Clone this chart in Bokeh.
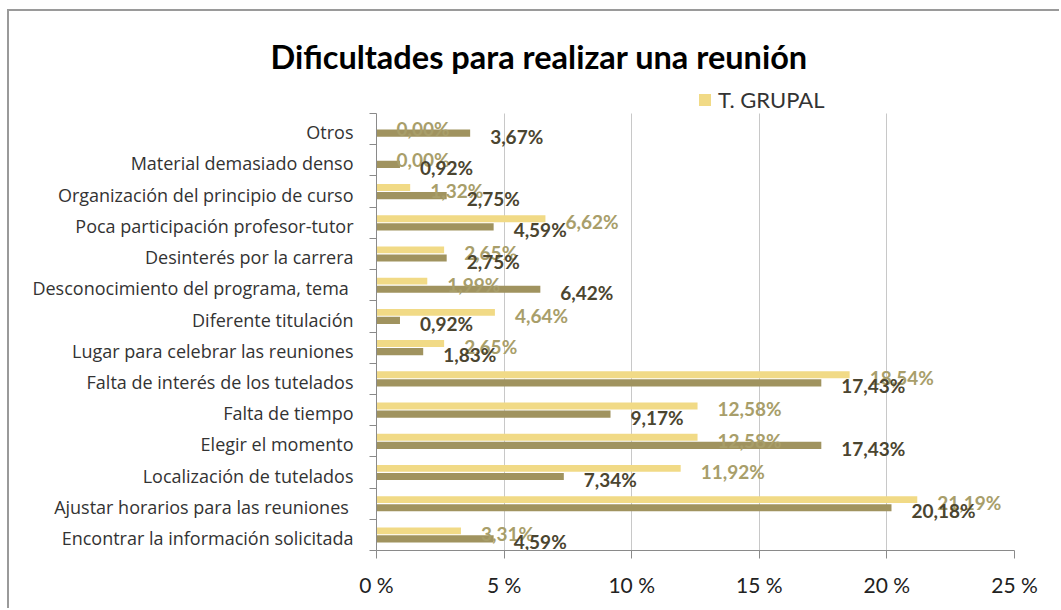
from bokeh.plotting import figure
from bokeh.models import (ColumnDataSource, FixedTicker, Legend, LegendItem, Range1d, Title)
from bokeh.embed import file_html
from bokeh.resources import INLINE
from bokeh.core.properties import value

# ---------------- data ----------------
categories = [
    "Otros",
    "Material demasiado denso",
    "Organización del principio de curso",
    "Poca participación profesor-tutor",
    "Desinterés por la carrera",
    "Desconocimiento del programa, tema ",
    "Diferente titulación",
    "Lugar para celebrar las reuniones",
    "Falta de interés de los tutelados",
    "Falta de tiempo",
    "Elegir el momento",
    "Localización de tutelados",
    "Ajustar  horarios para las reuniones",
    "Encontrar la información solicitada",
]
t_grupal = [0.00, 0.00, 1.32, 6.62, 2.65, 1.99, 4.64, 2.65, 18.54, 12.58, 12.58, 11.92, 21.19, 3.31]
t_other = [3.67, 0.92, 2.75, 4.59, 2.75, 6.42, 0.92, 1.83, 17.43, 9.17, 17.43, 7.34, 20.18, 4.59]
x_ticks = [0, 5, 10, 15, 20, 25]
x_tick_labels = ["0 %", "5 %", "10 %", "15 %", "20 %", "25 %"]
title_text = "Dificultades para realizar una reunión"
legend_label = "T. GRUPAL"

# ---------------- layout ----------------
n = len(categories)
OX, OY = 9, 11                       # canvas origin on the page (after css border)
W, H = 1061 - OX, 610 - OY
AX_TOP = 113                         # page y of top of category area
FT_PAGE = 82                         # page y of frame top (room for legend)
FL, FR, FT, FB = 376 - OX, 1014 - OX, FT_PAGE - OY, 550 - OY
px_y = (550 - AX_TOP) / n
y_end = n + (AX_TOP - FT_PAGE) / px_y

YELLOW = "#F1DA86"
DARK = "#A0935F"
YLAB = "#A89E6A"
DLAB = "#4B4530"
FONT = "Lato"

centers = [n - i - 0.5 for i in range(n)]
label_pos = [c - 0.1 for c in centers]
fmt = lambda v: f"{v:.2f}".replace(".", ",") + "%"

src = ColumnDataSource(dict(
    y1=[c + 0.13 for c in centers],
    y2=[c - 0.13 for c in centers],
    g=t_grupal, o=t_other,
    gl=[fmt(v) for v in t_grupal], ol=[fmt(v) for v in t_other],
))

p = figure(width=W, height=H, output_backend="svg", toolbar_location=None,
           x_range=Range1d(0, 25), y_range=Range1d(0, y_end),
           min_border_left=FL, min_border_right=W - FR,
           min_border_top=FT, min_border_bottom=H - FB)
p.styles = {"margin-left": "7px", "margin-top": "9px",
            "border-top": "2px solid #9a9a9a", "border-left": "2px solid #9a9a9a"}
p.outline_line_color = None
p.background_fill_color = "white"
p.border_fill_color = "white"

# grid lines (limited to the category area)
p.ygrid.grid_line_color = None
try:
    p.xgrid[0].cross_bounds = (0, n)
    p.xgrid.ticker = FixedTicker(ticks=x_ticks)
    p.xgrid.grid_line_color = "#c8c8c8"
except AttributeError:
    p.xgrid.grid_line_color = None
    p.segment(x0=x_ticks[1:], x1=x_ticks[1:], y0=0, y1=n, line_color="#c8c8c8", line_width=1)

r1 = p.hbar(y="y1", right="g", left=0, height=0.22, source=src, color=YELLOW, line_color=None)
r2 = p.hbar(y="y2", right="o", left=0, height=0.23, source=src, color=DARK, line_color=None)

p.text(x="g", y="y1", text="gl", source=src, x_offset=20, y_offset=3,
       text_font=value(FONT), text_font_style="bold", text_font_size="19px",
       text_color=YLAB, text_baseline="middle", text_align="left")
p.text(x="o", y="y2", text="ol", source=src, x_offset=20, y_offset=3,
       text_font=value(FONT), text_font_style="bold", text_font_size="19px",
       text_color=DLAB, text_baseline="middle", text_align="left")

# x axis
xa = p.xaxis[0]
xa.ticker = FixedTicker(ticks=x_ticks)
xa.major_label_overrides = {t: l for t, l in zip(x_ticks, x_tick_labels)}
xa.axis_line_color = "#8a8a8a"
xa.major_tick_line_color = "#8a8a8a"
xa.major_tick_out = 8
xa.major_tick_in = 0
xa.minor_tick_line_color = None
xa.major_label_standoff = 13
xa.major_label_text_font = FONT
xa.major_label_text_font_size = "21px"
xa.major_label_text_color = "#222222"

# y axis
ya = p.yaxis[0]
ya.bounds = (0, n)
ya.ticker = FixedTicker(ticks=label_pos, minor_ticks=list(range(n + 1)))
ya.major_label_overrides = {c: cat for c, cat in zip(label_pos, categories)}
ya.axis_line_color = "#8a8a8a"
ya.major_tick_line_color = None
ya.major_tick_out = 0
ya.major_tick_in = 0
ya.minor_tick_line_color = "#8a8a8a"
ya.minor_tick_out = 7
ya.minor_tick_in = 0
ya.major_label_standoff = 16
ya.major_label_text_font = "Open Sans"
ya.major_label_text_font_size = "18px"
ya.major_label_text_color = "#333333"

# legend (inside the extended frame, above the bars)
legend = Legend(items=[LegendItem(label=legend_label, renderers=[r1])],
                location=(697 - 376, 550 - 113), orientation="horizontal",
                padding=0, margin=0, border_line_color=None,
                background_fill_alpha=0, glyph_width=15, glyph_height=15,
                label_standoff=6, label_text_font=FONT, label_text_font_size="22px",
                label_text_color="#333333")
p.add_layout(legend)

# title
p.title = Title(text=title_text, align="left", offset=270 - 376, standoff=14,
                text_font=FONT, text_font_style="bold", text_font_size="32.5px",
                text_color="#000000")

open("out.html", "w").write(file_html(p, INLINE))
